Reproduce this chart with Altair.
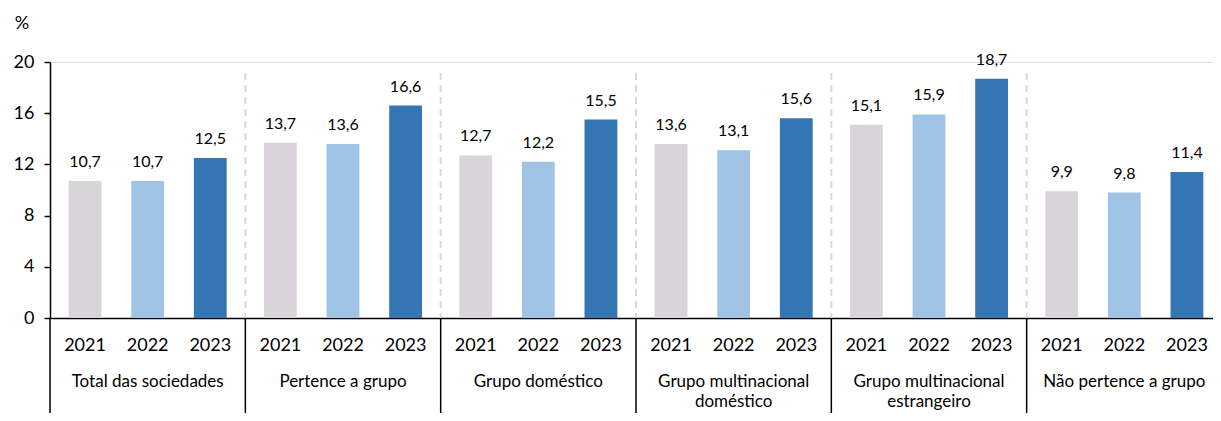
import altair as alt
import pandas as pd

groups = [
    "Total das sociedades",
    "Pertence a grupo",
    "Grupo doméstico",
    "Grupo multinacional\ndoméstico",
    "Grupo multinacional\nestrangeiro",
    "Não pertence a grupo",
]
years = ["2021", "2022", "2023"]
v2021 = [10.7, 13.7, 12.7, 13.6, 15.1, 9.9]
v2022 = [10.7, 13.6, 12.2, 13.1, 15.9, 9.8]
v2023 = [12.5, 16.6, 15.5, 15.6, 18.7, 11.4]
y_ticks = [0, 4, 8, 12, 16, 20]
colors = ["#D9D4DA", "#9FC4E5", "#3475B3"]

rows = []
for yr, vals in zip(years, [v2021, v2022, v2023]):
    for g, v in zip(groups, vals):
        rows.append({"grupo": g, "ano": yr, "valor": v})
df = pd.DataFrame(rows)
gdf = pd.DataFrame({"grupo": groups})
inner = pd.DataFrame({"grupo": groups[1:]})
pct = pd.DataFrame({"t": ["%"]})

W = 1172
H = 256
FONT = "Lato"

xscale = alt.Scale(domain=groups, range=[0, W], paddingInner=0, paddingOuter=0)
xaxis = alt.Axis(labels=False, ticks=False, title=None, domainColor="black",
                 domainWidth=1.5, grid=False)
yscale = alt.Scale(domain=[0, 20])
yaxis = alt.Axis(values=y_ticks, title=None, grid=False, domainColor="black",
                 domainWidth=1.5, tickColor="black", tickWidth=1.5, tickSize=6,
                 labelFontSize=18, labelColor="black", labelPadding=10, labelFont=FONT)
xo = alt.XOffset("ano:N", scale=alt.Scale(domain=years, paddingInner=0.476, paddingOuter=0.298))


def X(**kw):
    return alt.X("grupo:N", scale=xscale, axis=xaxis, **kw)


bars = alt.Chart(df).mark_bar().encode(
    x=X(),
    xOffset=xo,
    y=alt.Y("valor:Q", scale=yscale, axis=yaxis),
    color=alt.Color("ano:N", scale=alt.Scale(domain=years, range=colors), legend=None),
)

labels = alt.Chart(df).transform_calculate(
    lbl="replace(format(datum.valor, '.1f'), '.', ',')"
).mark_text(baseline="bottom", dy=-11, fontSize=16, font=FONT, color="black").encode(
    x=X(), xOffset=xo, y=alt.Y("valor:Q", scale=yscale, axis=yaxis), text="lbl:N"
)

year_lbl = alt.Chart(df).mark_text(baseline="middle", fontSize=18, font=FONT, color="black").encode(
    x=X(), xOffset=xo, y=alt.value(284), text="ano:N"
)

group_lbl = alt.Chart(gdf).mark_text(
    baseline="top", fontSize=17, font=FONT, color="black", lineBreak="\n", lineHeight=20
).encode(x=X(), y=alt.value(312), text="grupo:N")

solid = alt.Chart(gdf).mark_rule(color="black", strokeWidth=1.5).encode(
    x=X(bandPosition=0), y=alt.value(H), y2=alt.value(H + 120)
)

dashed = alt.Chart(inner).mark_rule(color="#D9D9D9", strokeWidth=2, strokeDash=[7, 5]).encode(
    x=X(bandPosition=0), y=alt.value(11), y2=alt.value(H)
)

pct_lbl = alt.Chart(pct).mark_text(fontSize=18, font=FONT, color="black").encode(
    x=alt.value(-28), y=alt.value(-38), text="t:N"
)

chart = alt.layer(dashed, bars, labels, solid, year_lbl, group_lbl, pct_lbl).properties(
    width=1163,
    height=H,
    padding={"left": 42, "top": 54, "right": 0, "bottom": 95},
    autosize=alt.AutoSizeParams(type="none"),
).configure_view(stroke=None).configure(font=FONT)

chart.save("out.html", embed_options={"renderer": "svg", "actions": False})
